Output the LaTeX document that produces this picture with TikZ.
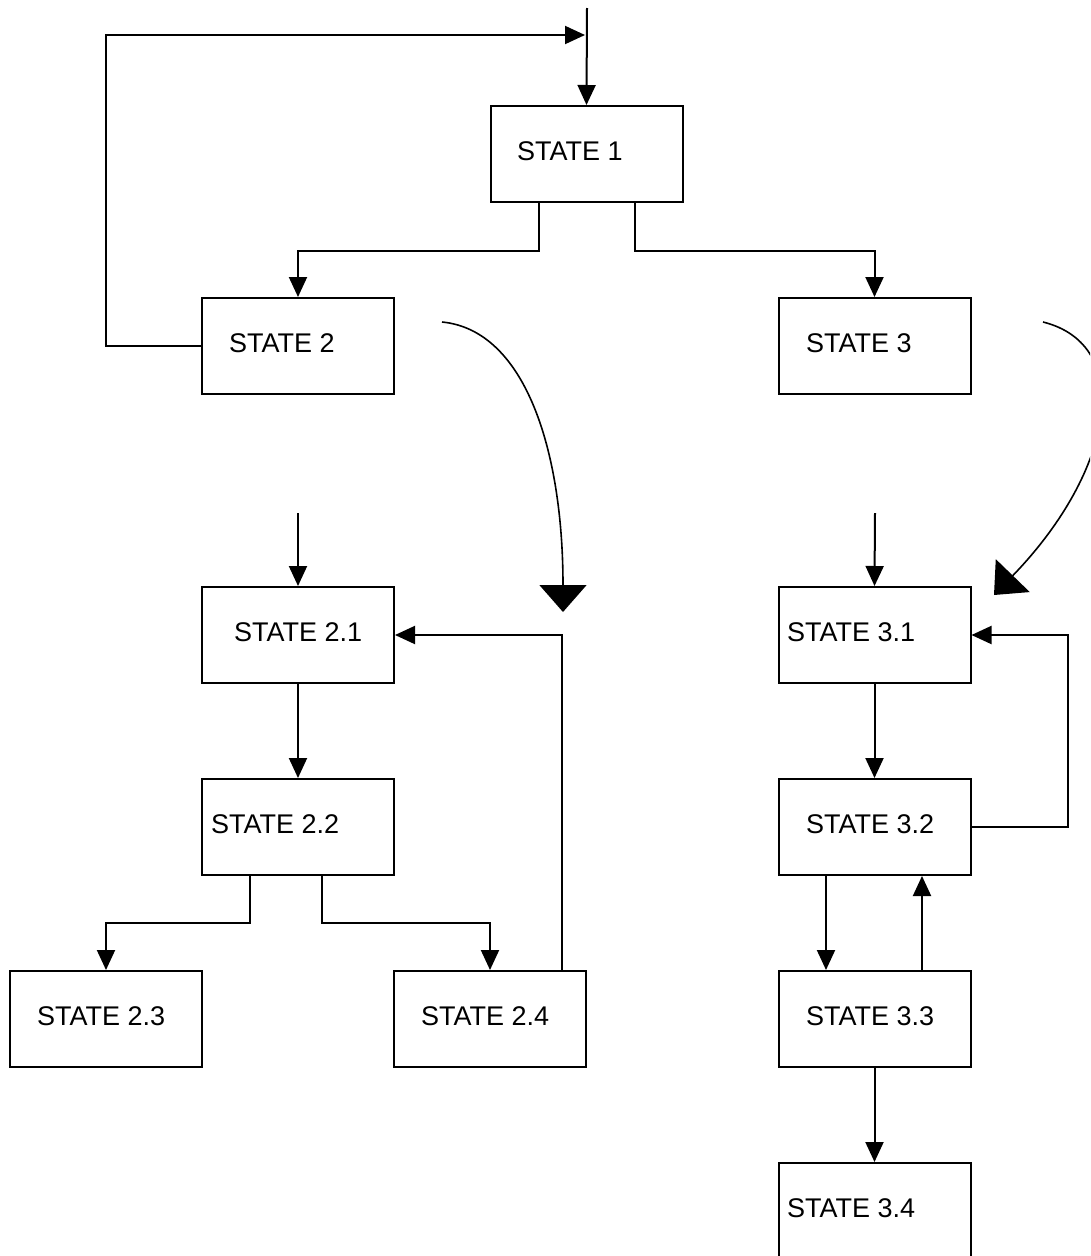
\documentclass[tikz,border=0pt]{standalone}
\usepackage{fontspec}
\setmainfont{Liberation Sans}
\usetikzlibrary{arrows.meta}
\begin{document}
\begin{tikzpicture}[x=1pt,y=-1pt,
  box/.style={draw,line width=2pt,minimum width=192pt,minimum height=96pt,inner sep=0pt},
  txt/.style={anchor=west,inner sep=0pt,font=\fontsize{27}{31}\selectfont},
  conn/.style={line width=2pt},
  arr/.style={conn,-{Triangle[length=20pt,width=18pt]}},
  bigarr/.style={line width=1.6pt,-{Triangle[length=27pt,width=47pt]}}]
\useasboundingbox (0,0) rectangle (1090,1256);
\clip (0,0) rectangle (1090,1256);

% states
\node[box] (s1)  at (586.5,154) {};
\node[box] (s2)  at (298,346) {};
\node[box] (s3)  at (874.5,346) {};
\node[box] (s21) at (298,635) {};
\node[box] (s22) at (298,827) {};
\node[box] (s23) at (106,1019) {};
\node[box] (s24) at (490,1019) {};
\node[box] (s31) at (874.5,635) {};
\node[box] (s32) at (874.5,827) {};
\node[box] (s33) at (874.5,1019) {};
\node[box] (s34) at (874.5,1211) {};

% labels
\node[txt] (t1)  at (517,151)  {STATE 1};
\node[txt] (t2)  at (229,343)  {STATE 2};
\node[txt] (t3)  at (806,343)  {STATE 3};
\node[txt] (t21) at (234,632)  {STATE 2.1};
\node[txt] (t22) at (211,824)  {STATE 2.2};
\node[txt] (t23) at (37,1016)  {STATE 2.3};
\node[txt] (t24) at (421,1016) {STATE 2.4};
\node[txt] (t31) at (787,632)  {STATE 3.1};
\node[txt] (t32) at (806,824)  {STATE 3.2};
\node[txt] (t33) at (806,1016) {STATE 3.3};
\node[txt] (t34) at (787,1208) {STATE 3.4};

% entry points and junctions
\coordinate (in1)  at (587,8);
\coordinate (j1)   at (587,35);
\coordinate (fb)   at (106,35);
\coordinate (in21) at (298,513);
\coordinate (in31) at (875,513);

% top level
\draw[arr] (in1) -- (s1.north);
\draw[arr] (s2.west) -| (fb) -- ([xshift=-2pt]j1);
\draw[arr] ([xshift=-47.5pt]s1.south) -- ++(0,48) -| (s2.north);
\draw[arr] ([xshift=48.5pt]s1.south) -- ++(0,48) -| (s3.north);

% refinement arrows
\coordinate (c2a) at (442,322);
\coordinate (c2b) at (563,612);
\draw[bigarr] (c2a) .. controls (525,330) and (563,450) .. (c2b);
\coordinate (c3a) at (1043,322);
\coordinate (c3b) at (994,595);
\draw[bigarr] (c3a) .. controls (1135,345) and (1115,470) .. (c3b);

% STATE 2 sub-machine
\draw[arr] (in21) -- (s21.north);
\draw[arr] (s21.south) -- (s22.north);
\draw[arr] ([xshift=-48pt]s22.south) -- ++(0,47) -| (s23.north);
\draw[arr] ([xshift=24pt]s22.south) -- ++(0,47) -| (s24.north);
\draw[arr] ([xshift=72pt]s24.north) |- (s21.east);

% STATE 3 sub-machine
\draw[arr] (in31) -- (s31.north);
\draw[arr] (s31.south) -- (s32.north);
\draw[arr] (s32.east) -- ++(96,0) |- (s31.east);
\draw[arr] ([xshift=-48.5pt]s32.south) -- ([xshift=-48.5pt]s33.north);
\draw[arr] ([xshift=47.5pt]s33.north) -- ([xshift=47.5pt]s32.south);
\draw[arr] (s33.south) -- (s34.north);
\end{tikzpicture}
\end{document}
